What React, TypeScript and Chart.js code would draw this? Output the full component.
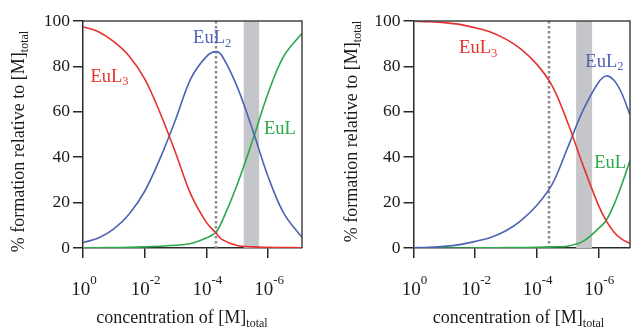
import React, { useEffect, useRef } from "react";
import { Chart, registerables } from "chart.js";

Chart.register(...registerables);

const FONT = "'Liberation Serif', 'Times New Roman', serif";
const RED = "#e6322f";
const BLUE = "#4c63b3";
const GREEN = "#2ba84a";
const AXIS = "#2a2a2a";
const BAND = "#c4c6c9";
const MARKER = "#8a8a8a";

// ---- data (x = exponent n in concentration 10^-n) ----
const leftExponents = [0, 0.5, 1, 1.5, 2, 2.5, 3, 3.5, 4, 4.3, 4.5, 5, 5.5, 6, 6.5, 7.1];
const leftEuL3 = [97.5, 95.3, 90.9, 84.5, 74.5, 59.5, 42.0, 23.5, 11.3, 6.8, 3.8, 1.1, 0.5, 0.3, 0.2, 0.1];
const leftEuL2 = [2.4, 4.4, 8.4, 15.0, 25.0, 39.5, 56.5, 74.7, 84.3, 86.5, 84.8, 71.0, 52.0, 31.5, 15.5, 4.6];
const leftEuL = [0.1, 0.1, 0.2, 0.3, 0.5, 0.8, 1.2, 2.0, 4.4, 6.8, 11.5, 28.0, 47.5, 68.2, 84.3, 94.6];

const rightExponents = [0, 0.5, 1, 1.5, 2, 2.5, 3, 3.5, 4, 4.5, 5, 5.5, 6, 6.25, 6.5, 6.75, 7.03];
const rightEuL3 = [99.9, 99.7, 99.3, 98.5, 97.0, 95.2, 92.0, 87.5, 81.0, 71.5, 55.5, 36.6, 19.0, 12.2, 7.2, 4.0, 2.0];
const rightEuL2 = [0.1, 0.3, 0.7, 1.5, 2.9, 4.6, 7.6, 12.2, 18.7, 28.0, 44.0, 60.5, 72.8, 75.8, 74.0, 68.5, 58.6];
const rightEuL = [0, 0, 0, 0, 0.05, 0.1, 0.15, 0.2, 0.3, 0.5, 0.8, 2.9, 8.5, 12.0, 18.8, 27.5, 38.5];

const xTickExponents = [0, 2, 4, 6];
const yTickValues = [0, 20, 40, 60, 80, 100];

const leftBand = [5.21, 5.71];
const leftMarker = 4.3;
const rightBand = [5.28, 5.8];
const rightMarker = 4.39;

const xTitle = "concentration of [M]";
const yTitle = "% formation relative to [M]";
const titleSub = "total";

type Label = { main: string; sub: string; x: number; y: number; color: string };

const leftLabels: Label[] = [
  { main: "EuL", sub: "3", x: 0.24, y: 73.3, color: RED },
  { main: "EuL", sub: "2", x: 3.57, y: 90.2, color: BLUE },
  { main: "EuL", sub: "", x: 5.87, y: 50.1, color: GREEN },
];
const rightLabels: Label[] = [
  { main: "EuL", sub: "3", x: 1.48, y: 85.8, color: RED },
  { main: "EuL", sub: "2", x: 5.58, y: 79.9, color: BLUE },
  { main: "EuL", sub: "", x: 5.87, y: 35.4, color: GREEN },
];

type Seg = { t: string; size: number; dy: number };

function segWidths(ctx: CanvasRenderingContext2D, segs: Seg[]) {
  return segs.map((s) => {
    ctx.font = `${s.size}px ${FONT}`;
    return ctx.measureText(s.t).width;
  });
}

function drawRich(
  ctx: CanvasRenderingContext2D,
  segs: Seg[],
  x: number,
  y: number,
  align: "left" | "center",
  color: string
) {
  ctx.save();
  ctx.fillStyle = color;
  ctx.textAlign = "left";
  ctx.textBaseline = "alphabetic";
  const w = segWidths(ctx, segs);
  const total = w.reduce((a, b) => a + b, 0);
  let cx = align === "center" ? x - total / 2 : x;
  segs.forEach((s, i) => {
    ctx.font = `${s.size}px ${FONT}`;
    ctx.fillText(s.t, cx, y + s.dy);
    cx += w[i];
  });
  ctx.restore();
}

type PanelCfg = {
  exps: number[];
  r: number[];
  b: number[];
  g: number[];
  xMax: number;
  yAxisWidth: number;
  padRight: number;
  band: number[];
  marker: number;
  labels: Label[];
  yTitleX: number;
  yTitleY: number;
  xTitleX: number;
};

function makePlugin(cfg: PanelCfg) {
  return {
    id: "decor",
    beforeDatasetsDraw(chart: any) {
      const { ctx, chartArea: a } = chart;
      const x = chart.scales.x;
      ctx.save();
      const x0 = x.getPixelForValue(cfg.band[0]);
      const x1 = x.getPixelForValue(cfg.band[1]);
      ctx.fillStyle = BAND;
      ctx.fillRect(x0, a.top, x1 - x0, a.bottom - a.top);
      const xm = Math.round(x.getPixelForValue(cfg.marker));
      ctx.strokeStyle = MARKER;
      ctx.lineWidth = 2.5;
      ctx.setLineDash([2.5, 2.5]);
      ctx.beginPath();
      ctx.moveTo(xm, a.top);
      ctx.lineTo(xm, a.bottom);
      ctx.stroke();
      ctx.restore();
    },
    afterDatasetsDraw(chart: any) {
      const { ctx } = chart;
      const x = chart.scales.x;
      const y = chart.scales.y;
      cfg.labels.forEach((l) => {
        const segs: Seg[] = [{ t: l.main, size: 18.5, dy: 0 }];
        if (l.sub) segs.push({ t: l.sub, size: 12.5, dy: 3.5 });
        drawRich(ctx, segs, x.getPixelForValue(l.x), y.getPixelForValue(l.y), "left", l.color);
      });
    },
    afterDraw(chart: any) {
      const { ctx, chartArea: a } = chart;
      const x = chart.scales.x;
      // frame top & right
      ctx.save();
      ctx.strokeStyle = "#444";
      ctx.lineWidth = 1.5;
      ctx.beginPath();
      ctx.moveTo(a.left, a.top);
      ctx.lineTo(a.right, a.top);
      ctx.lineTo(a.right, a.bottom);
      ctx.stroke();
      ctx.restore();
      // x tick labels 10^-n
      xTickExponents.forEach((e) => {
        const px = x.getPixelForValue(e);
        const sup = e === 0 ? "0" : `-${e}`;
        drawRich(
          ctx,
          [
            { t: "10", size: 19, dy: 0 },
            { t: sup, size: 13, dy: -11 },
          ],
          px + 1,
          a.bottom + 47,
          "center",
          "#1a1a1a"
        );
      });
      // x title
      drawRich(
        ctx,
        [
          { t: xTitle, size: 18, dy: 0 },
          { t: titleSub, size: 12, dy: 4 },
        ],
        cfg.xTitleX,
        323,
        "center",
        "#1a1a1a"
      );
      // y title (rotated)
      ctx.save();
      ctx.translate(cfg.yTitleX, cfg.yTitleY);
      ctx.rotate(-Math.PI / 2);
      drawRich(
        ctx,
        [
          { t: yTitle, size: 18, dy: 0 },
          { t: titleSub, size: 12, dy: 4 },
        ],
        0,
        0,
        "center",
        "#1a1a1a"
      );
      ctx.restore();
    },
  };
}

function Panel({ cfg, left, width }: { cfg: PanelCfg; left: number; width: number }) {
  const ref = useRef<HTMLCanvasElement>(null);
  useEffect(() => {
    const canvas = ref.current;
    if (!canvas) return;
    const ds = (vals: number[], color: string) => ({
      data: cfg.exps.map((e, i) => ({ x: e, y: vals[i] })),
      borderColor: color,
      backgroundColor: color,
      borderWidth: 1.6,
      pointRadius: 0,
      tension: 0.35,
      fill: false,
    });
    const chart = new Chart(canvas, {
      type: "line",
      data: {
        datasets: [ds(cfg.r, RED), ds(cfg.b, BLUE), ds(cfg.g, GREEN)],
      },
      options: {
        responsive: false,
        animation: false,
        devicePixelRatio: 1,
        layout: { padding: { left: 0, right: cfg.padRight, top: 21, bottom: 0 } },
        plugins: { legend: { display: false }, tooltip: { enabled: false } },
        scales: {
          x: {
            type: "linear",
            min: 0,
            max: cfg.xMax,
            afterBuildTicks: (s: any) => {
              s.ticks = xTickExponents.map((v) => ({ value: v }));
            },
            ticks: { display: false },
            grid: {
              drawOnChartArea: false,
              drawTicks: true,
              tickLength: 10,
              color: AXIS,
              lineWidth: 1.5,
            },
            border: { display: true, color: AXIS, width: 1.5 },
            afterFit: (s: any) => {
              s.height = 80;
            },
          },
          y: {
            min: 0,
            max: 100,
            afterBuildTicks: (s: any) => {
              s.ticks = yTickValues.map((v) => ({ value: v }));
            },
            ticks: {
              font: { family: FONT, size: 17.5 },
              color: "#1a1a1a",
              padding: 3,
            },
            grid: {
              drawOnChartArea: false,
              drawTicks: true,
              tickLength: 10,
              color: AXIS,
              lineWidth: 1.5,
            },
            border: { display: true, color: AXIS, width: 1.5 },
            afterFit: (s: any) => {
              s.width = cfg.yAxisWidth;
            },
          },
        },
      },
      plugins: [makePlugin(cfg)],
    } as any);
    return () => chart.destroy();
  }, [cfg]);
  return (
    <canvas
      ref={ref}
      width={width}
      height={328}
      style={{ position: "absolute", left, top: 0, width, height: 328 }}
    />
  );
}

const leftCfg: PanelCfg = {
  exps: leftExponents,
  r: leftEuL3,
  b: leftEuL2,
  g: leftEuL,
  xMax: 7.1,
  yAxisWidth: 83,
  padRight: 13,
  band: leftBand,
  marker: leftMarker,
  labels: leftLabels,
  yTitleX: 24,
  yTitleY: 141.5,
  xTitleX: 182,
};

const rightCfg: PanelCfg = {
  exps: rightExponents,
  r: rightEuL3,
  b: rightEuL2,
  g: rightEuL,
  xMax: 7.03,
  yAxisWidth: 98.5,
  padRight: 1,
  band: rightBand,
  marker: rightMarker,
  labels: rightLabels,
  yTitleX: 42,
  yTitleY: 131.5,
  xTitleX: 203.5,
};

export default function App() {
  return (
    <div
      style={{
        position: "absolute",
        left: 0,
        top: 0,
        width: 631,
        height: 328,
        background: "#ffffff",
        overflow: "hidden",
      }}
    >
      <Panel cfg={leftCfg} left={0} width={315} />
      <Panel cfg={rightCfg} left={315} width={316} />
    </div>
  );
}
